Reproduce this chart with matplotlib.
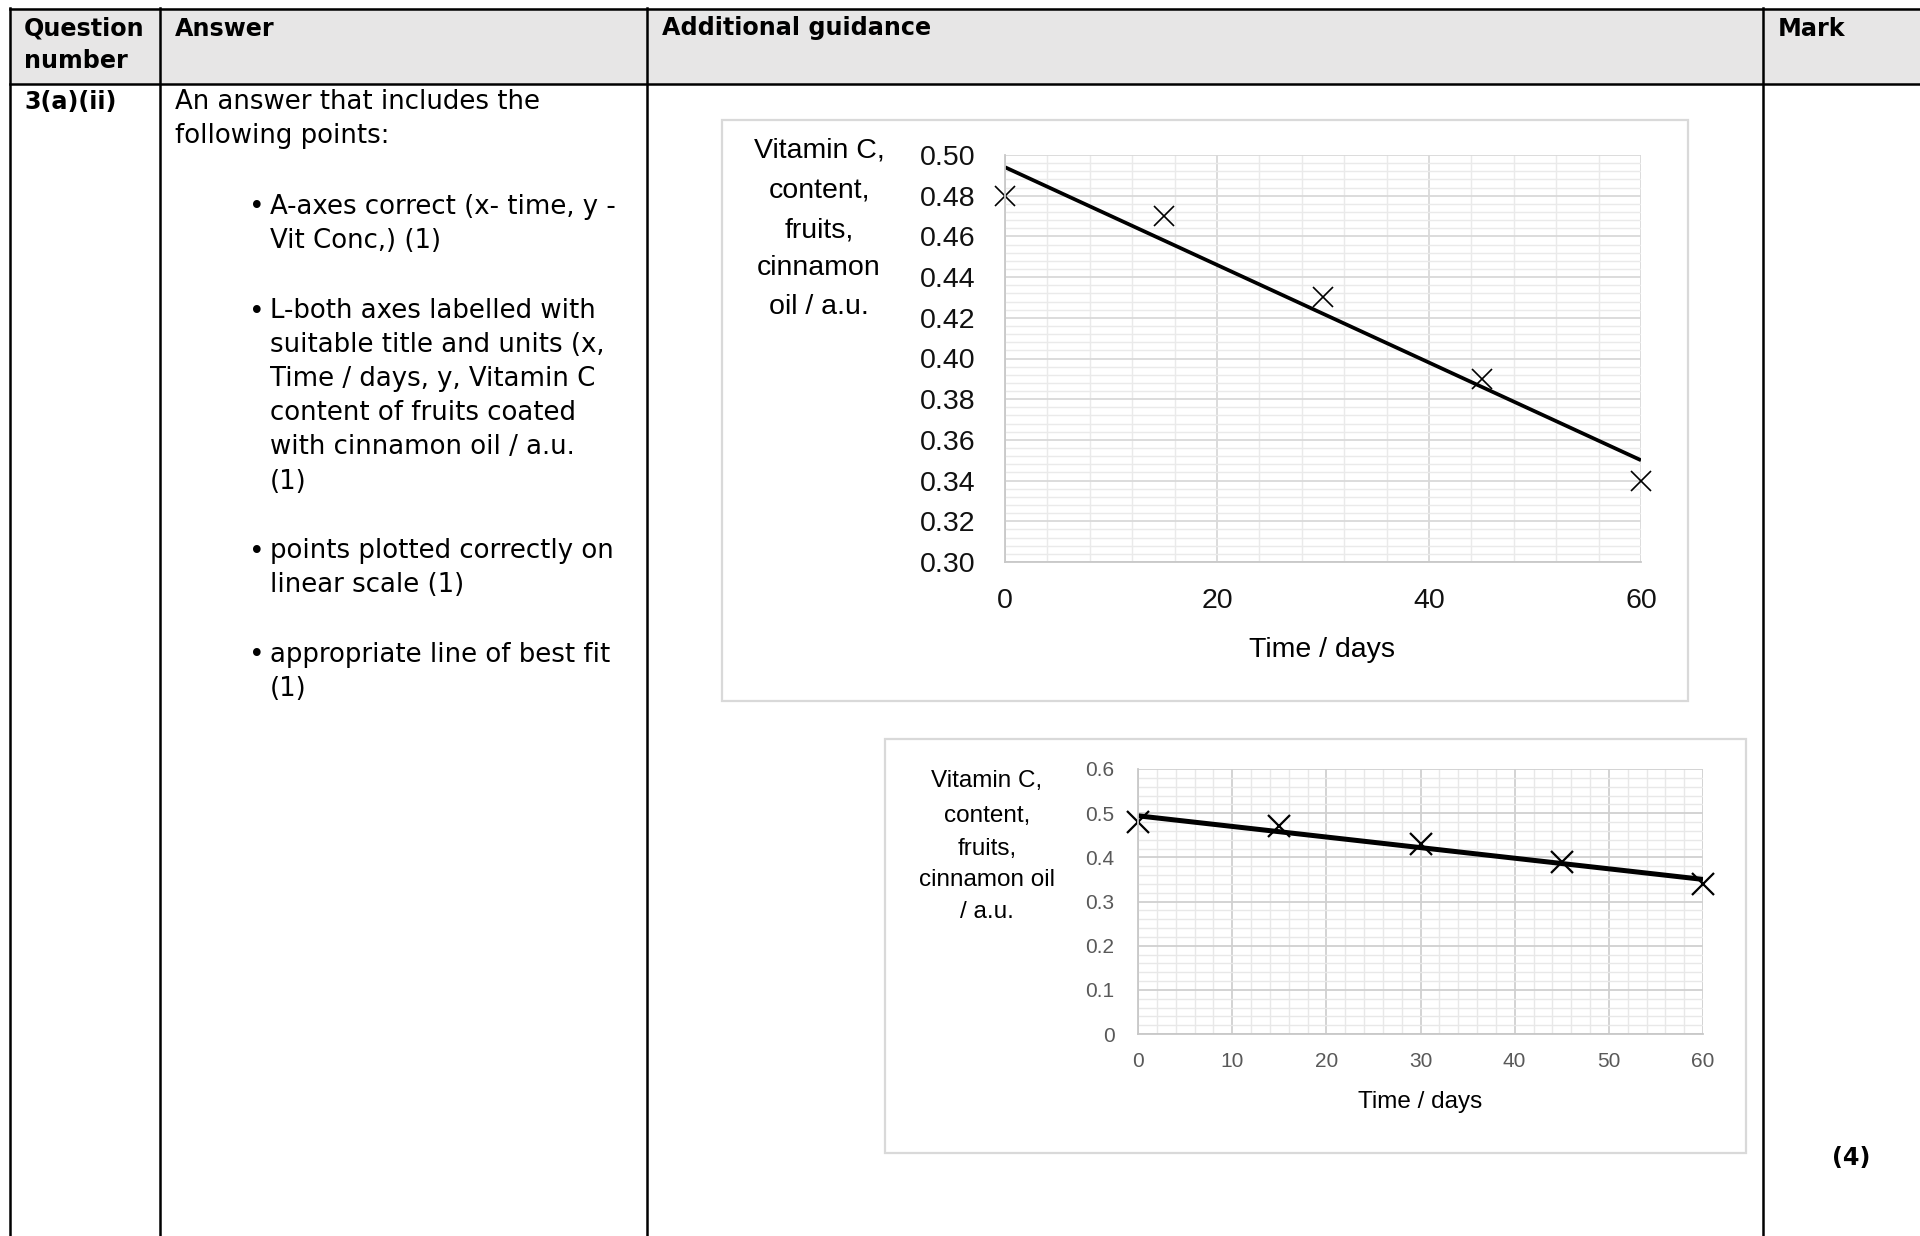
import numpy as np
import matplotlib
matplotlib.use('Agg')
import matplotlib.pyplot as plt
from matplotlib.ticker import MultipleLocator, FuncFormatter
from matplotlib.patches import Rectangle

W, H = 1920, 1236
DPI = 100

# data
days = [0, 15, 30, 45, 60]
vit_c = [0.48, 0.47, 0.43, 0.39, 0.34]

ticks1_x = [0, 20, 40, 60]
ticks1_y = [0.30, 0.32, 0.34, 0.36, 0.38, 0.40, 0.42, 0.44, 0.46, 0.48, 0.50]
ticks2_x = [0, 10, 20, 30, 40, 50, 60]
ticks2_y = [0, 0.1, 0.2, 0.3, 0.4, 0.5, 0.6]

headers = ['Question', 'number', 'Answer', 'Additional guidance', 'Mark']
question = '3(a)(ii)'
intro = ['An answer that includes the', 'following points:']
bullets = [
    ['A-axes correct (x- time, y -', 'Vit Conc,) (1)'],
    ['L-both axes labelled with', 'suitable title and units (x,',
     'Time / days, y, Vitamin C', 'content of fruits coated',
     'with cinnamon oil / a.u.', '(1)'],
    ['points plotted correctly on', 'linear scale (1)'],
    ['appropriate line of best fit', '(1)'],
]
mark = '(4)'
ylabel1 = ['Vitamin C,', 'content,', 'fruits,', 'cinnamon', 'oil / a.u.']
ylabel2 = ['Vitamin C,', 'content,', 'fruits,', 'cinnamon oil', '/ a.u.']
xlabel = 'Time / days'

# line of best fit from the points
slope, icpt = np.polyfit(days, vit_c, 1)
fit_x = np.array([days[0], days[-1]])
fit_y = slope * fit_x + icpt

fig = plt.figure(figsize=(W / DPI, H / DPI), dpi=DPI)
bg = fig.add_axes([0, 0, 1, 1])
bg.set_xlim(0, W)
bg.set_ylim(H, 0)
bg.axis('off')

# table
tfont = 'DejaVu Sans'
lw_t = 1.8
bg.add_patch(Rectangle((10, 8), W - 10, 76, facecolor='#e7e6e6', edgecolor='none'))
bg.plot([10, W], [8.5, 8.5], color='black', lw=lw_t)
bg.plot([10, W], [84, 84], color='black', lw=lw_t)
for cx in [10, 160, 647, 1763]:
    bg.plot([cx, cx], [8, H], color='black', lw=lw_t)

hb = dict(fontsize=17.2, fontweight='bold', family=tfont, va='center', ha='left')
bg.text(24, 28.5, headers[0], **hb)
bg.text(24, 60.5, headers[1], **hb)
bg.text(175, 28.5, headers[2], **hb)
bg.text(662, 28.5, headers[3], **hb)
bg.text(1778, 28.5, headers[4], **hb)
bg.text(24, 102, question, **hb)
bg.text(1851, 1158, mark, fontsize=17.2, fontweight='bold', family=tfont,
        va='center', ha='center')

body = dict(fontsize=18.7, family=tfont, va='center', ha='left')
bg.text(175, 102, intro[0], **body)
bg.text(175, 136, intro[1], **body)
bullet_y = [[206.5, 241], [311, 345, 379, 413, 446.5, 482], [551, 585.5], [654.5, 689]]
for lines, ys in zip(bullets, bullet_y):
    bg.text(249, ys[0] + 1, '\u2022', fontsize=19, family=tfont, va='center', ha='left')
    for txt, yy in zip(lines, ys):
        bg.text(270, yy, txt, **body)

# chart boxes
bg.add_patch(Rectangle((722, 120), 966, 581, facecolor='white', edgecolor='#d9d9d9', lw=1.6))
bg.add_patch(Rectangle((885, 739), 861, 414, facecolor='white', edgecolor='#d9d9d9', lw=1.6))

cfont = 'Liberation Sans'


def px_axes(left, top, right, bottom):
    return fig.add_axes([left / W, (H - bottom) / H, (right - left) / W, (bottom - top) / H])


# chart 1
ax1 = px_axes(1005, 155, 1641, 562)
ax1.set_xlim(0, 60)
ax1.set_ylim(0.30, 0.50)
ax1.set_xticks(ticks1_x)
ax1.set_yticks(ticks1_y)
ax1.xaxis.set_minor_locator(MultipleLocator(4))
ax1.yaxis.set_minor_locator(MultipleLocator(0.004))
ax1.yaxis.set_major_formatter(FuncFormatter(lambda v, p: '%.2f' % v))
ax1.grid(which='major', color='#d9d9d9', lw=1.3)
ax1.grid(which='minor', color='#eaeaea', lw=1.0)
ax1.set_axisbelow(True)
ax1.tick_params(which='both', length=0)
ax1.tick_params(axis='y', pad=21, labelsize=20.5, labelcolor='#111111')
ax1.tick_params(axis='x', pad=19, labelsize=20.5, labelcolor='#111111')
for lab in ax1.get_xticklabels() + ax1.get_yticklabels():
    lab.set_family(cfont)
for s in ['top', 'right']:
    ax1.spines[s].set_visible(False)
for s in ['left', 'bottom']:
    ax1.spines[s].set_color('#c8c8c8')
    ax1.spines[s].set_linewidth(1.3)
ax1.plot(fit_x, fit_y, color='black', lw=2.7, solid_capstyle='butt')
ax1.plot(days, vit_c, ls='none', marker='x', ms=15, mew=1.2, color='black', clip_on=False)

for txt, yy in zip(ylabel1, [150.5, 191, 230.5, 268, 307.5]):
    bg.text(819, yy, txt, fontsize=20.5, family=cfont, ha='center', va='center')
bg.text(1322, 650, xlabel, fontsize=20.5, family=cfont, ha='center', va='center')

# chart 2
ax2 = px_axes(1138, 769, 1703, 1034)
ax2.set_xlim(0, 60)
ax2.set_ylim(0, 0.6)
ax2.set_xticks(ticks2_x)
ax2.set_yticks(ticks2_y)
ax2.xaxis.set_minor_locator(MultipleLocator(2))
ax2.yaxis.set_minor_locator(MultipleLocator(0.02))
ax2.yaxis.set_major_formatter(FuncFormatter(lambda v, p: '%g' % round(v, 2)))
ax2.grid(which='major', color='#d0d0d0', lw=1.3)
ax2.grid(which='minor', color='#e8e8e8', lw=1.0)
ax2.set_axisbelow(True)
ax2.tick_params(which='both', length=0)
ax2.tick_params(axis='y', pad=17, labelsize=15, labelcolor='#595959')
ax2.tick_params(axis='x', pad=13, labelsize=15, labelcolor='#595959')
for lab in ax2.get_xticklabels() + ax2.get_yticklabels():
    lab.set_family(cfont)
for s in ['top', 'right']:
    ax2.spines[s].set_visible(False)
for s in ['left', 'bottom']:
    ax2.spines[s].set_color('#c8c8c8')
    ax2.spines[s].set_linewidth(1.3)
ax2.plot(fit_x, fit_y, color='black', lw=3.6, solid_capstyle='butt')
ax2.plot(days, vit_c, ls='none', marker='x', ms=16, mew=1.6, color='black', clip_on=False)

for txt, yy in zip(ylabel2, [781.5, 816, 848.5, 880, 912.5]):
    bg.text(987, yy, txt, fontsize=17.5, family=cfont, ha='center', va='center')
bg.text(1420, 1102, xlabel, fontsize=17.5, family=cfont, ha='center', va='center')

fig.savefig('out.png', dpi=DPI)
